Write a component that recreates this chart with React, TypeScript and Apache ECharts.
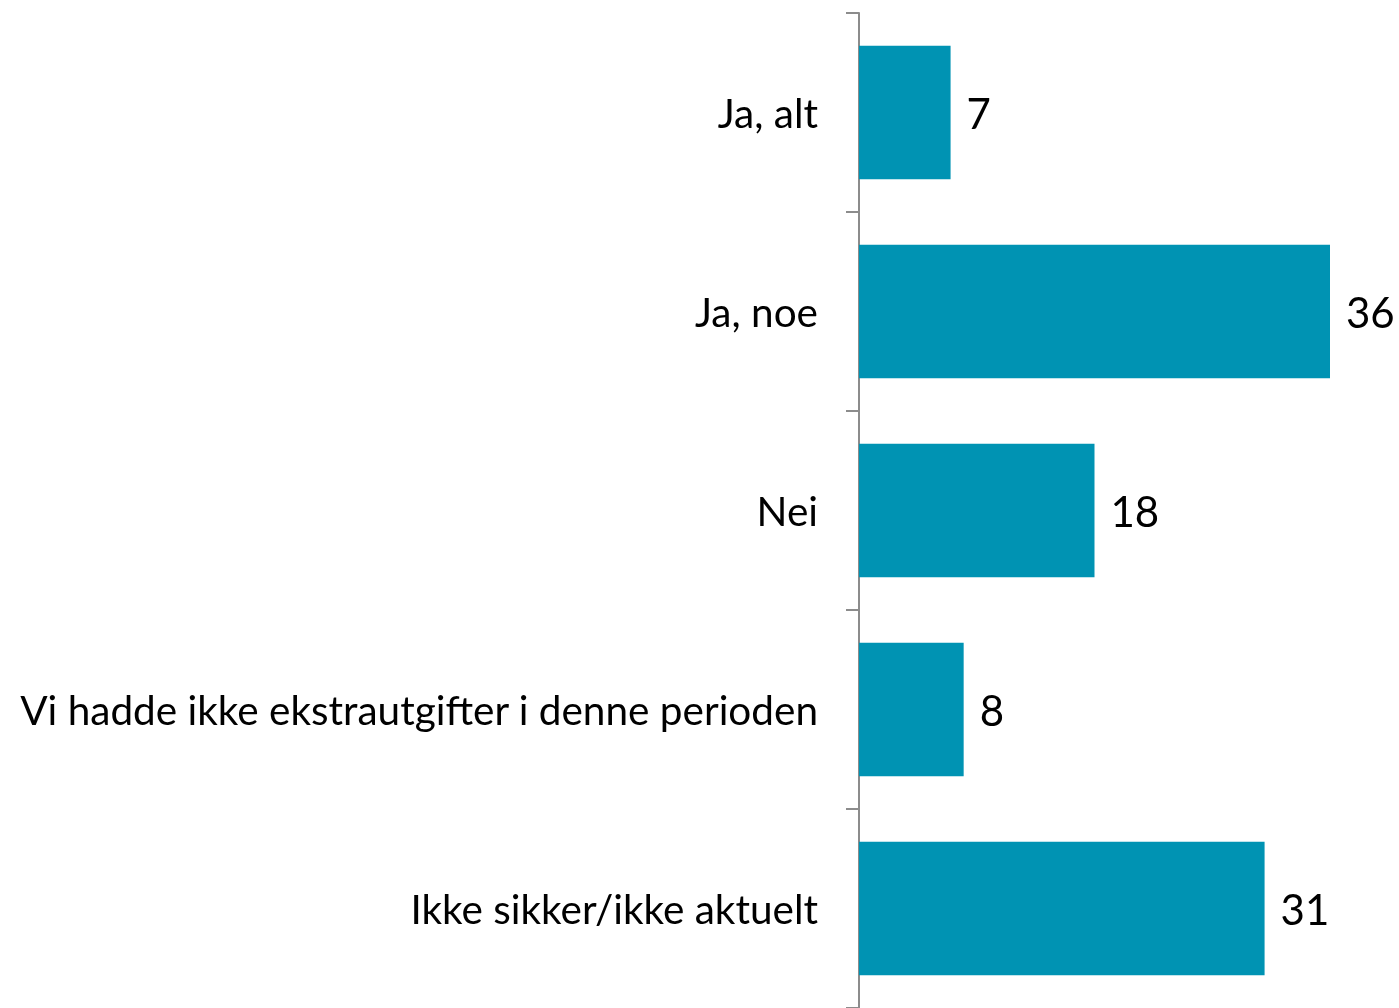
import React, { useEffect, useRef } from "react";
import * as echarts from "echarts";

const categories = [
  "Ja, alt",
  "Ja, noe",
  "Nei",
  "Vi hadde ikke ekstrautgifter i denne perioden",
  "Ikke sikker/ikke aktuelt",
];
const values = [7, 36, 18, 8, 31];

export default function App() {
  const ref = useRef<HTMLDivElement>(null);
  useEffect(() => {
    const chart = echarts.init(ref.current!, null, { renderer: "svg" });
    const font = "Lato, 'Noto Sans', sans-serif";
    chart.setOption({
      animation: false,
      grid: { left: 859, right: 69, top: 13, bottom: 0, containLabel: false },
      xAxis: {
        type: "value",
        min: 0,
        max: 36,
        show: false,
      },
      yAxis: {
        type: "category",
        inverse: true,
        data: categories,
        axisLine: { show: true, lineStyle: { color: "#8c8c8c", width: 2 } },
        axisTick: { show: true, length: 13, lineStyle: { color: "#8c8c8c", width: 2 } },
        axisLabel: {
          margin: 41,
          fontSize: 40.5,
          color: "#000",
          fontFamily: font,
        },
        splitLine: { show: false },
      },
      series: [
        {
          type: "bar",
          data: values,
          barCategoryGap: "33%",
          itemStyle: { color: "#0093B3" },
          label: {
            show: true,
            position: "right",
            distance: 16,
            fontSize: 42,
            color: "#000",
            fontFamily: font,
          },
        },
      ],
    });
    return () => chart.dispose();
  }, []);
  return (
    <div
      ref={ref}
      style={{ position: "fixed", left: 0, top: 0, width: 1399, height: 1008 }}
    />
  );
}
